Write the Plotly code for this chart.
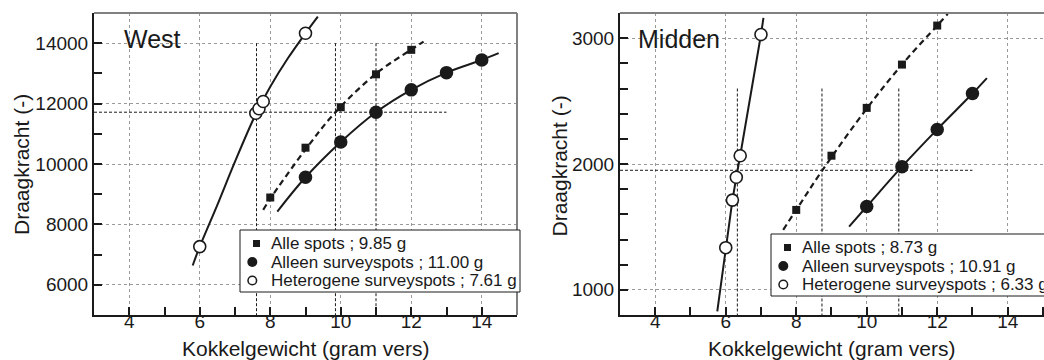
import plotly.graph_objects as go

W, H = 1044, 360
FONT = "Liberation Sans, Arial, Helvetica, sans-serif"
INK = "#1a1a1a"

# ---------------- data ----------------
x_tick_vals = [4, 6, 8, 10, 12, 14]
x_title = "Kokkelgewicht (gram vers)"
y_title = "Draagkracht (-)"
series_names = ["Alle spots", "Alleen surveyspots", "Heterogene surveyspots"]

# West panel
west_label = "West"
west_alle_x = [8, 9, 10, 11, 12]
west_alle_y = [8890, 10540, 11880, 12970, 13780]
west_alleen_x = [9, 10, 11, 12, 13, 14]
west_alleen_y = [9560, 10730, 11715, 12455, 13025, 13445]
west_het_x = [6.0, 7.59, 7.68, 7.80, 9.0]
west_het_y = [7265, 11680, 11830, 12070, 14330]
west_alle_fit_x = [7.8, 8.0, 9.0, 9.85, 11.0, 12.0, 12.35]
west_alle_fit_y = [8480, 8850, 10480, 11715, 12990, 13790, 14050]
west_alleen_fit_x = [8.2, 9, 10, 11, 12, 13, 14, 14.48]
west_alleen_fit_y = [8424, 9560, 10730, 11715, 12455, 13025, 13445, 13670]
west_het_fit_x = [5.8, 6.0, 6.5, 7.0, 7.6, 8.0, 8.5, 9.0, 9.35]
west_het_fit_y = [6640, 7265, 8650, 10080, 11680, 12560, 13500, 14330, 14880]
west_ref_x = [9.85, 11.00, 7.61]      # Alle, Alleen, Heterogeen (g)
west_ref_y = 11715
west_ref_top = 14000
west_y_range = [5000, 15000]

# Midden panel
mid_label = "Midden"
mid_alle_x = [8, 9, 10, 11, 12]
mid_alle_y = [1635, 2066, 2446, 2790, 3100]
mid_alleen_x = [10, 11, 12, 13]
mid_alleen_y = [1662, 1979, 2275, 2560]
mid_het_x = [6.0, 6.19, 6.30, 6.41, 7.0]
mid_het_y = [1335, 1713, 1895, 2066, 3029]
mid_alle_fit_x = [7.63, 8.0, 8.74, 10, 11, 12, 12.3]
mid_alle_fit_y = [1477, 1635, 1950, 2440, 2790, 3100, 3193]
mid_alleen_fit_x = [9.5, 10, 11, 12, 13, 13.41]
mid_alleen_fit_y = [1503, 1662, 1979, 2275, 2560, 2683]
mid_het_fit_x = [5.76, 6.0, 6.19, 6.30, 6.41, 7.0, 7.07]
mid_het_fit_y = [828, 1335, 1713, 1895, 2066, 3029, 3162]
mid_ref_x = [8.73, 10.91, 6.33]
mid_ref_y = 1950
mid_ref_top = 2600
mid_y_range = [800, 3200]

ref_h_start = 3
ref_h_end = 13

# ---------------- layout helpers ----------------
def pxx(p):
    return p / W

def pxy(p):
    return 1 - p / H

Y_DOM = [pxy(315), pxy(13)]

panels = [
    dict(xa="x", ya="y", xdom=[pxx(94), pxx(517)], xr=[3, 15], yr=west_y_range,
         dtick=2000, minor=1000, label=west_label, label_px=(122, 39),
         alle=(west_alle_x, west_alle_y), alleen=(west_alleen_x, west_alleen_y),
         het=(west_het_x, west_het_y),
         alle_fit=(west_alle_fit_x, west_alle_fit_y, "spline"),
         alleen_fit=(west_alleen_fit_x, west_alleen_fit_y, "spline"),
         het_fit=(west_het_fit_x, west_het_fit_y, "spline"),
         ref_x=west_ref_x, ref_y=west_ref_y, ref_top=west_ref_top,
         ytitle_px=(22, 165), xtitle_px=(305.5, 348),
         leg_box=(240, 230, 520, 292), right_border=True),
    dict(xa="x2", ya="y2", xdom=[pxx(620), 1.0], xr=[3, 15.03], yr=mid_y_range,
         dtick=1000, minor=200, label=mid_label, label_px=(636, 39),
         alle=(mid_alle_x, mid_alle_y), alleen=(mid_alleen_x, mid_alleen_y),
         het=(mid_het_x, mid_het_y),
         alle_fit=(mid_alle_fit_x, mid_alle_fit_y, "spline"),
         alleen_fit=(mid_alleen_fit_x, mid_alleen_fit_y, "spline"),
         het_fit=(mid_het_fit_x, mid_het_fit_y, "linear"),
         ref_x=mid_ref_x, ref_y=mid_ref_y, ref_top=mid_ref_top,
         ytitle_px=(558.5, 166), xtitle_px=(831.7, 348),
         leg_box=(771, 234, 1060, 296), right_border=False),
]

fig = go.Figure()
shapes = []
annotations = []

for p in panels:
    xa, ya = p["xa"], p["ya"]
    ybot = p["yr"][0]
    # reference lines
    for v in p["ref_x"]:
        fig.add_trace(go.Scatter(x=[v, v], y=[p["ref_top"], ybot], mode="lines",
                                 line=dict(color=INK, width=1, dash="3px,2px"),
                                 xaxis=xa, yaxis=ya, showlegend=False, hoverinfo="skip"))
    fig.add_trace(go.Scatter(x=[ref_h_start, ref_h_end], y=[p["ref_y"], p["ref_y"]], mode="lines",
                             line=dict(color=INK, width=1, dash="3px,2px"),
                             xaxis=xa, yaxis=ya, showlegend=False, hoverinfo="skip"))
    # fitted curves
    fx, fy, sh = p["alle_fit"]
    fig.add_trace(go.Scatter(x=fx, y=fy, mode="lines",
                             line=dict(color=INK, width=2.2, dash="6px,4px", shape=sh),
                             xaxis=xa, yaxis=ya, showlegend=False, hoverinfo="skip"))
    for key in ("alleen_fit", "het_fit"):
        fx, fy, sh = p[key]
        fig.add_trace(go.Scatter(x=fx, y=fy, mode="lines",
                                 line=dict(color=INK, width=2, shape=sh),
                                 xaxis=xa, yaxis=ya, showlegend=False, hoverinfo="skip"))
    # markers
    fig.add_trace(go.Scatter(x=p["alle"][0], y=p["alle"][1], mode="markers",
                             marker=dict(symbol="square", size=8, color=INK),
                             xaxis=xa, yaxis=ya, name=series_names[0], showlegend=False))
    fig.add_trace(go.Scatter(x=p["alleen"][0], y=p["alleen"][1], mode="markers",
                             marker=dict(symbol="circle", size=13.5, color=INK),
                             xaxis=xa, yaxis=ya, name=series_names[1], showlegend=False))
    fig.add_trace(go.Scatter(x=p["het"][0], y=p["het"][1], mode="markers",
                             marker=dict(symbol="circle", size=12, color="white",
                                         line=dict(color=INK, width=1.6)),
                             xaxis=xa, yaxis=ya, name=series_names[2], showlegend=False))

    # borders (top gray, right gray)
    xd = xa + " domain"
    yd = ya + " domain"
    shapes.append(dict(type="line", xref=xd, yref=yd, x0=0, x1=1, y0=1, y1=1,
                       line=dict(color="#808080", width=2), layer="above"))
    if p["right_border"]:
        shapes.append(dict(type="line", xref=xd, yref=yd, x0=1, x1=1, y0=0, y1=1,
                           line=dict(color="#808080", width=2), layer="above"))

    # legend
    bx0, by0, bx1, by1 = p["leg_box"]
    shapes.append(dict(type="rect", xref="paper", yref="paper",
                       x0=pxx(bx0), x1=pxx(bx1), y0=pxy(by1), y1=pxy(by0),
                       fillcolor="white", line=dict(color=INK, width=1), layer="above"))
    rows = [by0 + 13.5, by0 + 32, by0 + 50.5]
    sq = 3.5
    cx = bx0 + 16.5
    shapes.append(dict(type="rect", xref="paper", yref="paper",
                       x0=pxx(cx - sq), x1=pxx(cx + sq), y0=pxy(rows[0] + sq), y1=pxy(rows[0] - sq),
                       fillcolor=INK, line=dict(width=0), layer="above"))
    cc = bx0 + 12.3
    r = 5
    shapes.append(dict(type="circle", xref="paper", yref="paper",
                       x0=pxx(cc - r), x1=pxx(cc + r), y0=pxy(rows[1] + r), y1=pxy(rows[1] - r),
                       fillcolor=INK, line=dict(width=0), layer="above"))
    r2 = 4.3
    shapes.append(dict(type="circle", xref="paper", yref="paper",
                       x0=pxx(cc - r2), x1=pxx(cc + r2), y0=pxy(rows[2] + r2), y1=pxy(rows[2] - r2),
                       fillcolor="white", line=dict(color=INK, width=1.5), layer="above"))
    vals = [p["ref_x"][0], p["ref_x"][1], p["ref_x"][2]]
    for i, (nm, v) in enumerate(zip(series_names, vals)):
        annotations.append(dict(text=f"{nm} ; {v:.2f} g", xref="paper", yref="paper",
                                x=pxx(bx0 + 28.5), y=pxy(rows[i]), xanchor="left", yanchor="middle",
                                showarrow=False, font=dict(size=17, color=INK, family=FONT)))

    # panel label
    lx, ly = p["label_px"]
    annotations.append(dict(text=p["label"], xref="paper", yref="paper", x=pxx(lx), y=pxy(ly),
                            xanchor="left", yanchor="middle", showarrow=False,
                            font=dict(size=25, color=INK, family=FONT)))
    # axis titles
    tx, ty = p["ytitle_px"]
    annotations.append(dict(text=y_title, xref="paper", yref="paper", x=pxx(tx), y=pxy(ty),
                            xanchor="center", yanchor="middle", textangle=-90, showarrow=False,
                            font=dict(size=21, color=INK, family=FONT)))
    tx, ty = p["xtitle_px"]
    annotations.append(dict(text=x_title, xref="paper", yref="paper", x=pxx(tx), y=pxy(ty),
                            xanchor="center", yanchor="middle", showarrow=False,
                            font=dict(size=21, color=INK, family=FONT)))

axis_common = dict(showline=True, linecolor=INK, linewidth=2, mirror=False,
                   ticks="inside", ticklen=8, tickwidth=1.5, tickcolor=INK,
                   showgrid=True, gridcolor="#9a9a9a", gridwidth=1, griddash="dot",
                   zeroline=False, tickfont=dict(size=19, color=INK, family=FONT))

for i, p in enumerate(panels):
    sfx = "" if i == 0 else str(i + 1)
    fig.update_layout(**{
        "xaxis" + sfx: dict(domain=p["xdom"], range=p["xr"], anchor=p["ya"],
                            tickmode="array", tickvals=x_tick_vals, ticklabelstandoff=-12,
                            minor=dict(dtick=1, tick0=0, ticks="inside", ticklen=8, tickwidth=1.5,
                                       tickcolor=INK, showgrid=False),
                            **axis_common),
        "yaxis" + sfx: dict(domain=Y_DOM, range=p["yr"], anchor=p["xa"],
                            dtick=p["dtick"], tick0=0, tickformat="d",
                            minor=dict(dtick=p["minor"], tick0=0, ticks="inside", ticklen=8,
                                       tickwidth=1.5, tickcolor=INK, showgrid=False),
                            **axis_common),
    })

fig.update_layout(width=W, height=H, margin=dict(l=0, r=0, t=0, b=0),
                  paper_bgcolor="white", plot_bgcolor="white",
                  showlegend=False, shapes=shapes, annotations=annotations,
                  font=dict(family=FONT, color=INK))

fig.write_html("out.html")
